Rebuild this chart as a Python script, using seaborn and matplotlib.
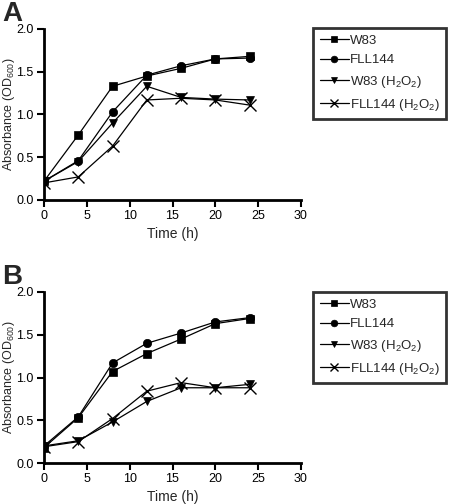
import matplotlib
matplotlib.use("Agg")
import matplotlib.pyplot as plt
import seaborn as sns
import pandas as pd

sns.set_style("ticks")
plt.rcParams['font.family'] = ['Liberation Sans', 'DejaVu Sans']
plt.rcParams['mathtext.fontset'] = 'custom'
plt.rcParams['mathtext.rm'] = 'Liberation Sans'
plt.rcParams['mathtext.it'] = 'Liberation Sans'

time = [0, 4, 8, 12, 16, 20, 24]
series = ["W83", "FLL144", "W83 (H$_2$O$_2$)", "FLL144 (H$_2$O$_2$)"]
markers = ["s", "o", "v", "x"]

a_w83 = [0.22, 0.76, 1.33, 1.45, 1.54, 1.65, 1.68]
a_fll = [0.22, 0.46, 1.03, 1.46, 1.57, 1.65, 1.66]
a_w83_h = [0.22, 0.45, 0.90, 1.33, 1.20, 1.18, 1.17]
a_fll_h = [0.20, 0.27, 0.63, 1.17, 1.19, 1.17, 1.11]

b_w83 = [0.18, 0.53, 1.07, 1.28, 1.45, 1.63, 1.69]
b_fll = [0.20, 0.54, 1.17, 1.40, 1.52, 1.65, 1.70]
b_w83_h = [0.20, 0.26, 0.48, 0.72, 0.88, 0.88, 0.92]
b_fll_h = [0.19, 0.25, 0.52, 0.84, 0.94, 0.88, 0.88]

panels = {"A": [a_w83, a_fll, a_w83_h, a_fll_h],
          "B": [b_w83, b_fll, b_w83_h, b_fll_h]}

W, H = 450, 504
fig = plt.figure(figsize=(W / 100, H / 100), dpi=100)

def rect(l, t, r, b):
    return [l / W, 1 - b / H, (r - l) / W, (b - t) / H]

axes_px = {"A": (44, 29, 301, 200), "B": (44, 292, 301, 463)}
legend_px = {"A": (313, 28), "B": (313, 292)}

for key, data in panels.items():
    ax = fig.add_axes(rect(*axes_px[key]))
    for name, vals, m in zip(series, data, markers):
        df = pd.DataFrame({"t": time, "y": vals})
        ms = 6 if m != "x" else 8
        sns.lineplot(data=df, x="t", y="y", ax=ax, color="black", linewidth=0.9,
                     marker=m, markersize=ms, markeredgecolor="black",
                     markeredgewidth=1.0 if m == "x" else 0.5, label=name)
    ax.set_xlim(0, 30)
    ax.set_ylim(0, 2.0)
    ax.set_xticks([0, 5, 10, 15, 20, 25, 30])
    ax.set_yticks([0.0, 0.5, 1.0, 1.5, 2.0])
    ax.set_yticklabels(["0.0", "0.5", "1.0", "1.5", "2.0"])
    ax.set_xlabel("Time (h)", fontsize=10, labelpad=3)
    ax.set_ylabel("Absorbance (OD$_{600}$)", fontsize=9)
    ax.yaxis.set_label_coords(-0.105, 0.5)
    sns.despine(ax=ax)
    for s in ["left", "bottom"]:
        ax.spines[s].set_linewidth(2)
        ax.spines[s].set_color("black")
    ax.tick_params(direction="out", length=5, width=1.5, labelsize=9, colors="black", pad=2.5)
    ax.grid(False)
    lx, ly = legend_px[key]
    leg = ax.legend(loc="upper left", bbox_to_anchor=(lx / W, 1 - ly / H),
                    bbox_transform=fig.transFigure, frameon=True, fancybox=False,
                    fontsize=9.5, handlelength=2.2, handletextpad=0.1,
                    borderpad=0.5, labelspacing=0.55, borderaxespad=0,
                    markerscale=0.8)
    leg.get_frame().set_edgecolor("black")
    leg.get_frame().set_linewidth(2)
    fig.text(2 / W, 1 - (axes_px[key][1] - 2) / H, key, fontsize=20,
             fontweight="bold", va="bottom", ha="left")

fig.savefig("out.png", dpi=100)
